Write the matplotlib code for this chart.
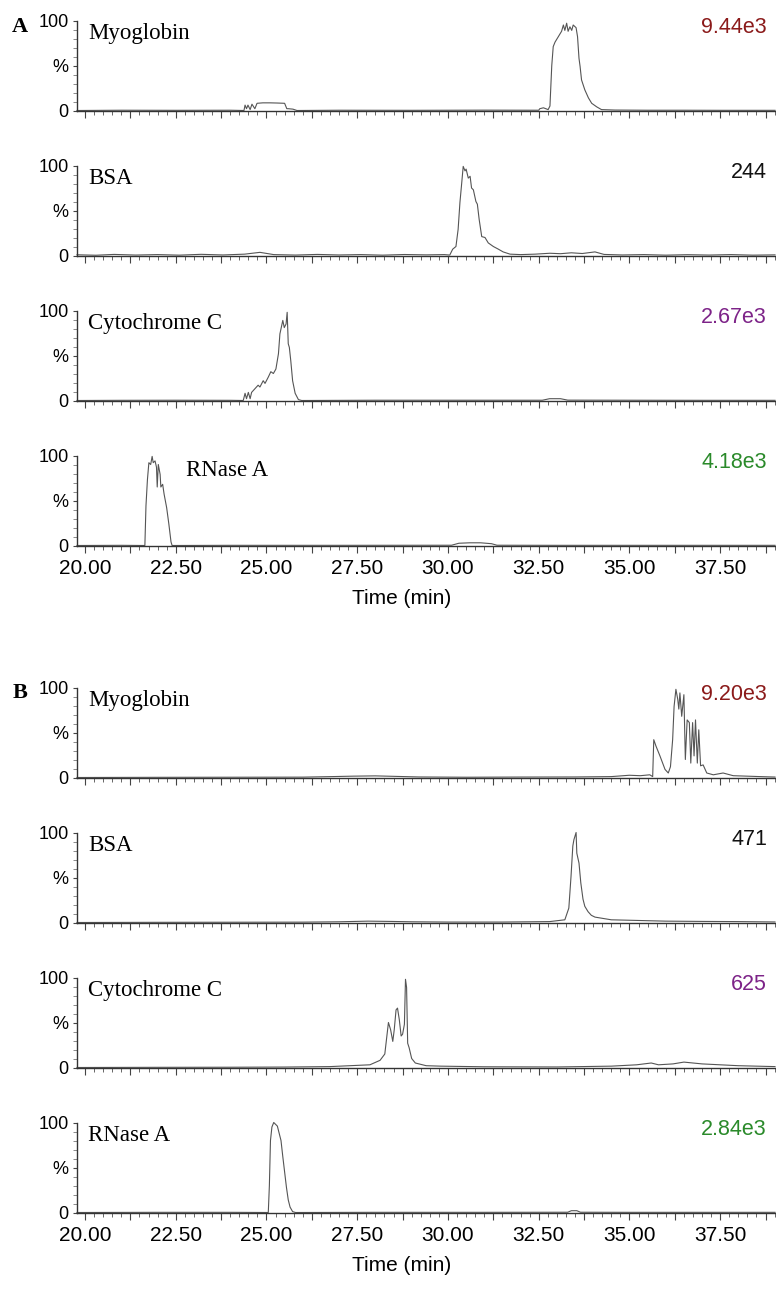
import numpy as np
import matplotlib.pyplot as plt
from matplotlib.ticker import MultipleLocator, FixedLocator, FuncFormatter

# ---- data (time in min, intensity in %) ----
names = ["Myoglobin", "BSA", "Cytochrome C", "RNase A"]
colores = ["#8b1a1a", "#111111", "#7d2388", "#2a8a2a"]
intens_A = ["9.44e3", "244", "2.67e3", "4.18e3"]
intens_B = ["9.20e3", "471", "625", "2.84e3"]

# Panel A
A_myo_t = [19.78, 21.0, 22.5, 24.0, 24.38, 24.41, 24.45, 24.49, 24.55, 24.6, 24.68, 24.74, 24.9,
           25.1, 25.3, 25.5, 25.56, 25.6, 25.73, 25.84, 27.0, 29.0, 31.0, 32.5, 32.53, 32.63,
           32.76, 32.81, 32.86, 32.90, 32.95, 33.04, 33.13, 33.18, 33.22, 33.27, 33.31, 33.36,
           33.41, 33.45, 33.53, 33.57, 33.61, 33.64, 33.68, 33.77, 33.87, 33.96, 34.10, 34.23,
           34.6, 35.5, 36.5, 37.5, 39.01]
A_myo_v = [0, 0.3, 0.2, 0.3, 0, 6, 2, 6, 1, 7, 2, 8, 8.5,
           8.5, 8.3, 8, 2, 2, 1.5, 0, 0.3, 0.2, 0.4, 0.3, 2, 3,
           1, 5, 50, 71, 76, 82, 88, 95, 89, 97, 88, 93,
           89, 95, 92, 82, 58, 49, 34, 23, 14, 8, 4, 1,
           0.5, 0.3, 0.3, 0.2, 0.2]

A_bsa_t = [19.78, 20.3, 20.8, 21.4, 22.0, 22.6, 23.2, 23.8, 24.4, 24.82, 25.2, 25.8, 26.4, 27.0,
           27.6, 28.2, 28.8, 29.4, 29.9, 30.05, 30.13, 30.22, 30.28, 30.33, 30.38, 30.42,
           30.47, 30.50, 30.56, 30.61, 30.65, 30.70, 30.77, 30.81, 30.86, 30.93, 31.02,
           31.11, 31.25, 31.39, 31.52, 31.71, 32.0, 32.4, 32.81, 33.1, 33.4, 33.7, 34.05,
           34.3, 34.8, 35.4, 36.0, 36.6, 37.2, 37.8, 38.4, 39.01]
A_bsa_v = [0.8, 0.3, 1.2, 0.5, 1.0, 0.4, 1.3, 0.6, 1.5, 3.5, 1.0, 0.5, 1.2, 0.6,
           1.0, 0.4, 1.1, 0.7, 1.0, 0.5, 7, 10, 29, 59, 81, 99,
           94, 96, 86, 88, 75, 73, 60, 57, 40, 21, 20,
           14, 10, 7, 4, 1.5, 1.0, 1.5, 2.5, 2.0, 3.0, 2.2, 4.0,
           1.2, 0.6, 1.0, 0.4, 0.9, 0.5, 1.0, 0.4, 0.7]

A_cyt_t = [19.78, 21.0, 22.5, 24.0, 24.36, 24.41, 24.45, 24.50, 24.55, 24.59, 24.68, 24.77,
           24.82, 24.91, 24.96, 25.05, 25.12, 25.19, 25.26, 25.33, 25.37, 25.45, 25.49,
           25.54, 25.57, 25.60, 25.63, 25.67, 25.72, 25.79, 25.88, 25.97, 28.0, 30.0,
           32.6, 32.8, 33.1, 33.3, 35.0, 37.0, 39.01]
A_cyt_v = [0, 0.2, 0.3, 0.2, 0, 8, 2, 9, 2, 9, 13, 17,
           15, 22, 19, 26, 32, 30, 35, 52, 74, 89, 81,
           85, 98, 63, 59, 44, 22, 8, 1, 0, 0.3, 0.3,
           0.3, 2, 2, 0.4, 0.3, 0.2, 0.2]

A_rna_t = [19.78, 21.0, 21.65, 21.68, 21.72, 21.76, 21.81, 21.85, 21.88, 21.93, 21.97, 21.99,
           22.02, 22.07, 22.09, 22.14, 22.18, 22.25, 22.31, 22.37, 22.40, 24.0, 27.0,
           30.1, 30.3, 30.6, 30.9, 31.2, 31.35, 33.0, 36.0, 39.01]
A_rna_v = [0, 0.2, 0, 44, 73, 92, 90, 99, 92, 94, 87, 65,
           90, 79, 65, 68, 57, 42, 24, 4, 0, 0.2, 0.2,
           0.3, 2.5, 3, 3, 2, 0.3, 0.2, 0.2, 0.2]

# Panel B
B_myo_t = [19.78, 22.0, 24.0, 26.0, 26.8, 27.4, 28.0, 28.6, 29.2, 30.5, 32.0, 33.5, 34.5,
           35.0, 35.3, 35.56, 35.64, 35.67, 35.73, 35.84, 35.98, 36.07, 36.13, 36.19, 36.23,
           36.28, 36.33, 36.36, 36.39, 36.44, 36.50, 36.54, 36.59, 36.65, 36.69, 36.74,
           36.78, 36.82, 36.87, 36.91, 36.96, 37.03, 37.13, 37.31, 37.58, 37.86, 38.23,
           38.6, 39.01]
B_myo_v = [0, 0.2, 0.3, 0.4, 1.0, 1.5, 1.8, 1.2, 0.6, 0.3, 0.5, 0.6, 1.0,
           2.5, 2.0, 3.0, 1, 42, 35, 24, 9, 5, 12, 42, 79,
           98, 87, 76, 94, 68, 92, 20, 64, 61, 16, 61,
           24, 64, 16, 53, 13, 14, 5, 3, 5, 2, 1.5,
           1.0, 0.5]

B_bsa_t = [19.78, 22.0, 24.0, 26.0, 27.0, 27.8, 28.4, 29.0, 30.0, 31.5, 32.8, 33.22, 33.33,
           33.39, 33.44, 33.47, 33.53, 33.55, 33.61, 33.66, 33.72, 33.77, 33.86, 33.95,
           34.05, 34.2, 34.5, 35.0, 35.5, 36.0, 37.0, 38.0, 39.01]
B_bsa_v = [0, 0.2, 0.3, 0.4, 0.8, 1.5, 1.2, 0.8, 0.5, 0.5, 1.0, 3, 16,
           51, 85, 92, 100, 77, 66, 44, 26, 18, 12, 8,
           6, 5, 3, 2.5, 2, 1.5, 1.2, 1.0, 0.6]

B_cyt_t = [19.78, 22.0, 24.0, 25.5, 26.75, 27.3, 27.85, 28.13, 28.26, 28.36, 28.42, 28.48,
           28.52, 28.57, 28.61, 28.66, 28.71, 28.75, 28.80, 28.83, 28.86, 28.89, 28.93,
           29.0, 29.1, 29.4, 29.8, 31.0, 33.0, 34.5, 35.2, 35.6, 35.8, 36.2, 36.5, 37.0,
           37.5, 38.0, 38.5, 39.01]
B_cyt_v = [0, 0.2, 0.3, 0.5, 1.0, 2.0, 3.0, 8, 15, 50, 42, 29,
           42, 64, 66, 53, 35, 37, 48, 98, 89, 27, 22,
           10, 5, 2, 1.5, 0.8, 0.6, 1.5, 3, 5, 3, 4, 6, 4,
           3, 2, 1.5, 1.0]

B_rna_t = [19.78, 22.0, 24.0, 25.05, 25.08, 25.11, 25.15, 25.20, 25.25, 25.30, 25.35, 25.40,
           25.45, 25.50, 25.55, 25.60, 25.65, 25.72, 25.80, 28.0, 31.0, 33.3, 33.4, 33.55,
           33.65, 35.0, 37.0, 39.01]
B_rna_v = [0, 0.2, 0.2, 0, 30, 80, 95, 100, 98, 96, 88, 80,
           62, 45, 28, 14, 6, 1, 0, 0.2, 0.2, 0.3, 2, 2,
           0.3, 0.2, 0.2, 0.2]

panel_A = [(A_myo_t, A_myo_v), (A_bsa_t, A_bsa_v), (A_cyt_t, A_cyt_v), (A_rna_t, A_rna_v)]
panel_B = [(B_myo_t, B_myo_v), (B_bsa_t, B_bsa_v), (B_cyt_t, B_cyt_v), (B_rna_t, B_rna_v)]

W, H = 776, 1289
fig = plt.figure(figsize=(W / 100, H / 100), dpi=100)

sans = ["Liberation Sans", "DejaVu Sans"]
serif = ["Liberation Serif", "DejaVu Serif"]

x_izq, x_der = 77, 775
ceros_A = [110.5, 255.5, 400.5, 545.5]
desplaz_B = 667
alto = 90


def fmt_x(v, pos):
    if abs(v / 2.5 - round(v / 2.5)) < 1e-6:
        return "%.2f" % v
    return ""


def dibujar_panel(trazas, intens, ceros, letra):
    for i, (t, v) in enumerate(trazas):
        cero = ceros[i]
        ax = fig.add_axes([x_izq / W, 1 - cero / H, (x_der - x_izq) / W, alto / H])
        ax.plot(t, v, color="#555555", lw=0.8, clip_on=False)
        ax.set_xlim(19.78, 39.01)
        ax.set_ylim(0, 100)
        for s in ["top", "right"]:
            ax.spines[s].set_visible(False)
        for s in ["left", "bottom"]:
            ax.spines[s].set_color("#333333")
            ax.spines[s].set_linewidth(1.0)

        ax.xaxis.set_major_locator(MultipleLocator(1.25))
        ax.xaxis.set_minor_locator(MultipleLocator(0.25))
        ax.xaxis.set_major_formatter(FuncFormatter(fmt_x))
        ax.tick_params(axis="x", which="major", length=5, width=0.8, color="#444444",
                       pad=5, labelsize=15)
        ax.tick_params(axis="x", which="minor", length=3, width=0.7, color="#666666")
        if i < 3:
            ax.tick_params(axis="x", which="major", labelbottom=False)

        ax.yaxis.set_major_locator(FixedLocator([0, 50, 100]))
        ax.set_yticklabels(["0", "%", "100"])
        ax.yaxis.set_minor_locator(MultipleLocator(10))
        ax.tick_params(axis="y", which="major", length=3, width=0.8, color="#444444",
                       pad=3, labelsize=13)
        ax.tick_params(axis="y", which="minor", length=3, width=0.6, color="#777777")
        for lab in ax.get_xticklabels() + ax.get_yticklabels():
            lab.set_family(sans)

        # nombre de la proteína
        if letra == "A" and i == 3:
            ax.text(0.156, 0.77, names[i], transform=ax.transAxes, fontsize=16.5,
                    family=serif, va="baseline", ha="left")
        else:
            ax.text(0.016, 0.79, names[i], transform=ax.transAxes, fontsize=16.5,
                    family=serif, va="baseline", ha="left")
        # intensidad
        ax.text(0.9885, 0.92, intens[i], transform=ax.transAxes, fontsize=15.5,
                family=sans, color=colores[i], va="center", ha="right")

    fig.text(20 / W, 1 - (ceros[0] - 84) / H, letra, fontsize=16, fontweight="bold",
             family=serif, ha="center", va="center")
    fig.text(402 / W, 1 - (ceros[3] + 53) / H, "Time (min)", fontsize=15,
             family=sans, ha="center", va="center")


dibujar_panel(panel_A, intens_A, ceros_A, "A")
dibujar_panel(panel_B, intens_B, [c + desplaz_B for c in ceros_A], "B")

fig.savefig("out.png", dpi=100, facecolor="white")
